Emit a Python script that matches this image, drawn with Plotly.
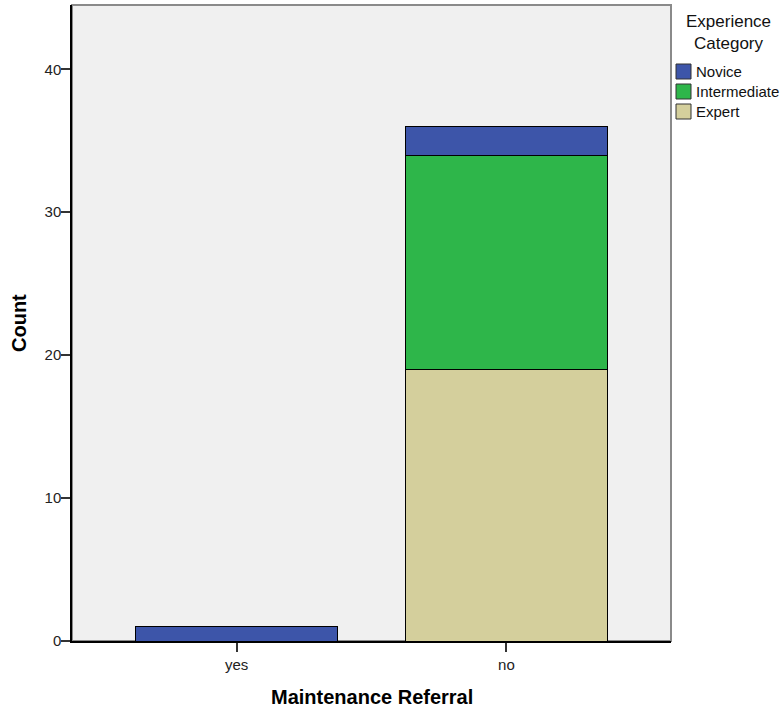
import plotly.graph_objects as go

categories = ["yes", "no"]
series_names = ["Novice", "Intermediate", "Expert"]
novice = [1, 2]
intermediate = [0, 15]
expert = [0, 19]
colors = {"Novice": "#3D55A9", "Intermediate": "#2EB64A", "Expert": "#D4CF9C"}
y_ticks = [0, 10, 20, 30, 40]

W, H = 781, 708
L, R, T, B = 72, 110, 5, 67
PW, PH = W - L - R, H - T - B


def px(x):
    return (x - L) / PW


def py(y):
    return (H - B - y) / PH


FONT = "Liberation Sans, Arial, sans-serif"

fig = go.Figure()
values = {"Novice": novice, "Intermediate": intermediate, "Expert": expert}
for name in ["Expert", "Intermediate", "Novice"]:
    fig.add_trace(go.Bar(
        x=categories, y=values[name], name=name,
        marker=dict(color=colors[name], line=dict(color="#000000", width=1)),
        width=0.75, showlegend=False,
    ))

shapes = [
    dict(type="rect", xref="paper", yref="paper", x0=0, x1=1, y0=0, y1=1,
         line=dict(color="#8a8a8a", width=2), layer="below"),
]
annotations = []
# manual legend
for i, name in enumerate(series_names):
    top = 64 + 20 * i
    shapes.append(dict(type="rect", xref="paper", yref="paper",
                       x0=px(676), x1=px(691), y0=py(top + 15), y1=py(top),
                       fillcolor=colors[name], line=dict(color="#333333", width=1)))
    annotations.append(dict(text=name, xref="paper", yref="paper", x=px(694), y=py(top + 7.5),
                            xanchor="left", yanchor="middle", showarrow=False,
                            font=dict(family=FONT, size=15, color="#111111")))
annotations.append(dict(text="Experience<br>Category", xref="paper", yref="paper",
                        x=px(728), y=py(33), xanchor="center", yanchor="middle",
                        align="center", showarrow=False,
                        font=dict(family=FONT, size=17, color="#111111")))
annotations.append(dict(text="<b>Maintenance Referral</b>", xref="paper", yref="paper",
                        x=0.5, y=py(697), xanchor="center", yanchor="middle",
                        showarrow=False, font=dict(family=FONT, size=20, color="#000000")))
annotations.append(dict(text="<b>Count</b>", xref="paper", yref="paper",
                        x=px(19), y=0.5, xanchor="center", yanchor="middle", textangle=-90,
                        showarrow=False, font=dict(family=FONT, size=20, color="#000000")))

fig.update_layout(
    width=W, height=H, autosize=False,
    margin=dict(l=L, r=R, t=T, b=B),
    barmode="stack",
    paper_bgcolor="#ffffff", plot_bgcolor="#F0F0F0",
    font=dict(family=FONT, size=15, color="#222222"),
    shapes=shapes, annotations=annotations,
    xaxis=dict(range=[-0.61, 1.61], showgrid=False, showline=True, linecolor="#000000",
               linewidth=1.5, ticks="outside", ticklen=9, tickwidth=1.5, tickcolor="#333333",
               tickfont=dict(size=15), zeroline=False, fixedrange=True),
    yaxis=dict(range=[0, 44.5], tickvals=y_ticks, showgrid=False, showline=True,
               linecolor="#000000", linewidth=1.5, ticks="outside", ticklen=9, tickwidth=1.5,
               tickcolor="#333333", tickfont=dict(size=15), zeroline=False, fixedrange=True,
               ticklabelstandoff=-3),
)

fig.write_html(
    "out.html",
    config={"displayModeBar": False},
    post_script="document.body.style.margin='0';document.body.style.overflow='hidden';",
)
